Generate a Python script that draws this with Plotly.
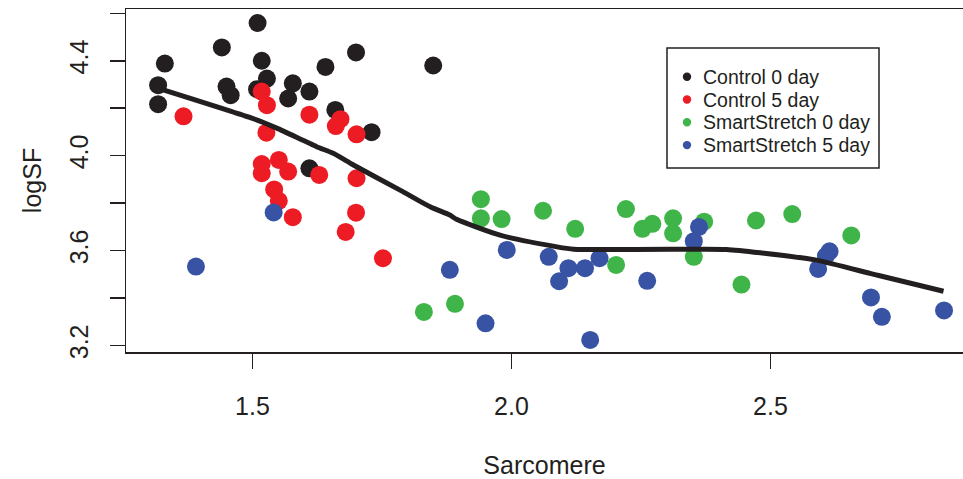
import plotly.graph_objects as go

# ---- data ----
ctrl0_x = [1.510, 1.441, 1.331, 1.518, 1.528, 1.318, 1.318, 1.450, 1.458, 1.509,
           1.578, 1.569, 1.610, 1.641, 1.700, 1.849, 1.660, 1.730, 1.610]
ctrl0_y = [4.559, 4.456, 4.388, 4.400, 4.325, 4.297, 4.217, 4.291, 4.255, 4.280,
           4.305, 4.241, 4.270, 4.374, 4.435, 4.380, 4.193, 4.099, 3.947]

ctrl5_x = [1.367, 1.518, 1.528, 1.610, 1.670, 1.661, 1.701, 1.527, 1.518, 1.518,
           1.551, 1.569, 1.629, 1.701, 1.542, 1.551, 1.578, 1.700, 1.680, 1.752]
ctrl5_y = [4.166, 4.270, 4.213, 4.173, 4.154, 4.125, 4.090, 4.097, 3.965, 3.926,
           3.982, 3.933, 3.919, 3.905, 3.858, 3.810, 3.741, 3.760, 3.679, 3.568]

ss0_x = [1.941, 1.941, 1.981, 2.061, 2.123, 2.221, 2.253, 2.272, 2.312, 2.312,
         2.202, 1.831, 1.891, 2.352, 2.372, 2.472, 2.542, 2.444, 2.656]
ss0_y = [3.817, 3.736, 3.733, 3.768, 3.692, 3.775, 3.692, 3.713, 3.736, 3.673,
         3.540, 3.342, 3.376, 3.574, 3.722, 3.727, 3.754, 3.457, 3.664]

ss5_x = [1.391, 1.541, 1.881, 1.991, 1.950, 2.072, 2.092, 2.110, 2.142, 2.170,
         2.262, 2.152, 2.362, 2.352, 2.614, 2.607, 2.592, 2.694, 2.715, 2.835]
ss5_y = [3.533, 3.761, 3.519, 3.603, 3.294, 3.574, 3.471, 3.526, 3.526, 3.568,
         3.473, 3.224, 3.700, 3.640, 3.597, 3.577, 3.523, 3.403, 3.321, 3.348]

fit_x = [1.328, 1.508, 1.547, 1.624, 1.656, 1.695, 1.785, 1.843, 1.881, 1.894,
         1.978, 2.088, 2.120, 2.364, 2.415, 2.480, 2.589, 2.692, 2.711, 2.834]
fit_y = [4.277, 4.151, 4.116, 4.038, 4.010, 3.961, 3.855, 3.785, 3.750, 3.732,
         3.665, 3.616, 3.606, 3.606, 3.605, 3.591, 3.560, 3.504, 3.494, 3.429]

x_ticks = [1.5, 2.0, 2.5]
x_tick_labels = ["1.5", "2.0", "2.5"]
y_ticks = [3.2, 3.4, 3.6, 3.8, 4.0, 4.2, 4.4, 4.6]
y_tick_labels = ["3.2", "", "3.6", "", "4.0", "", "4.4", ""]

series_names = ["Control 0 day", "Control 5 day", "SmartStretch 0 day", "SmartStretch 5 day"]
series_x = [ctrl0_x, ctrl5_x, ss0_x, ss5_x]
series_y = [ctrl0_y, ctrl5_y, ss0_y, ss5_y]
series_colors = ["#231F20", "#ED1C24", "#3FB549", "#3953A4"]

FONT = "Liberation Sans, Arial, Helvetica, sans-serif"
INK = "#231F20"

W, H = 963, 479
ML, MR, MT, MB = 126, 0, 9, 127
PW, PH = W - ML - MR, H - MT - MB


def px_to_paper_x(px):
    return (px - ML) / PW


def px_to_paper_y(py):
    return (H - MB - py) / PH


fig = go.Figure()
for name, xs, ys, col in zip(series_names, series_x, series_y, series_colors):
    fig.add_trace(go.Scatter(x=xs, y=ys, mode="markers", name=name, showlegend=False,
                             marker=dict(color=col, size=18, line=dict(width=0))))

fig.add_trace(go.Scatter(x=fit_x, y=fit_y, mode="lines", showlegend=False,
                         line=dict(color=INK, width=5, shape="spline", smoothing=0.6)))

# legend drawn as a box with key dots and labels (R-style legend)
shapes = [dict(type="rect", xref="paper", yref="paper",
               x0=px_to_paper_x(667), x1=px_to_paper_x(879),
               y0=px_to_paper_y(168), y1=px_to_paper_y(48),
               line=dict(color=INK, width=1.5), fillcolor="rgba(0,0,0,0)")]
annotations = []
row0, row_gap, dot_r = 76.7, 22.8, 4.2
for i, (name, col) in enumerate(zip(series_names, series_colors)):
    cy = row0 + i * row_gap
    shapes.append(dict(type="circle", xref="paper", yref="paper",
                       x0=px_to_paper_x(687 - dot_r), x1=px_to_paper_x(687 + dot_r),
                       y0=px_to_paper_y(cy + dot_r), y1=px_to_paper_y(cy - dot_r),
                       line=dict(width=0), fillcolor=col))
    annotations.append(dict(text=name, xref="paper", yref="paper",
                            x=px_to_paper_x(701), y=px_to_paper_y(cy),
                            xanchor="left", yanchor="middle", showarrow=False,
                            font=dict(size=19.5, family=FONT, color=INK)))

fig.update_layout(
    width=W, height=H,
    margin=dict(l=ML, r=MR, t=MT, b=MB, autoexpand=False),
    paper_bgcolor="white", plot_bgcolor="white",
    font=dict(family=FONT, color=INK),
    showlegend=False,
    xaxis=dict(range=[1.256, 2.8716], tickvals=x_ticks, ticktext=x_tick_labels,
               ticks="outside", ticklen=15, tickwidth=1.5, tickcolor=INK,
               showline=True, linecolor=INK, linewidth=1.5, mirror=True,
               showgrid=False, zeroline=False, automargin=False,
               tickfont=dict(size=25), ticklabelstandoff=16,
               title=dict(text="Sarcomere", font=dict(size=25), standoff=38)),
    yaxis=dict(range=[3.173, 4.618], tickvals=y_ticks, ticktext=y_tick_labels,
               ticks="outside", ticklen=15, tickwidth=1.5, tickcolor=INK,
               showline=True, linecolor=INK, linewidth=1.5, mirror=False,
               showgrid=False, zeroline=False, tickangle=-90, automargin=False,
               tickfont=dict(size=25), ticklabelstandoff=12,
               title=dict(text="logSF", font=dict(size=25), standoff=16)),
    shapes=shapes,
    annotations=annotations,
)

fig.write_html("out.html",
               config={"displayModeBar": False, "staticPlot": True},
               post_script="document.body.style.margin='0';document.body.style.padding='0';"
                           "window.dispatchEvent(new Event('resize'));")
